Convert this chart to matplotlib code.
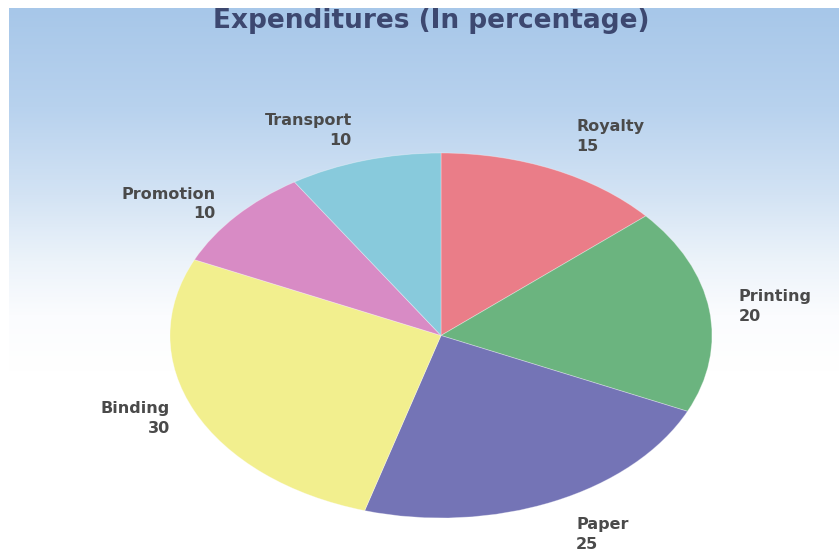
import numpy as np
import matplotlib
matplotlib.use("Agg")
import matplotlib.pyplot as plt
from matplotlib.colors import LinearSegmentedColormap

# ---- data ----
categories = ["Royalty", "Printing", "Paper", "Binding", "Promotion", "Transport"]
values = [15, 20, 25, 30, 10, 10]
colors = ["#ea7d88", "#6bb47f", "#7474b6", "#f2ef8e", "#d88bc5", "#88cadc"]
label_dist = [1.20, 1.11, 1.20, 1.10, 1.10, 1.17]
title = "Expenditures (In percentage)"

W, H = 839, 557
fig = plt.figure(figsize=(W / 100, H / 100), dpi=100)
fig.patch.set_facecolor("white")

# background gradient panel
bg = fig.add_axes([9 / W, 0, 1 - 9 / W, 1 - 8 / H])
bg.set_axis_off()
grad = np.linspace(0, 1, 1024).reshape(-1, 1)
cmap = LinearSegmentedColormap.from_list(
    "bgc", [(0.0, "#a7c7e9"), (0.18, "#b8d2ee"), (0.34, "#d3e3f4"),
            (0.46, "#ecf3fa"), (0.56, "#fbfcfe"), (0.66, "#ffffff"), (1.0, "#ffffff")]
)
bg.imshow(grad, aspect="auto", cmap=cmap, extent=[0, 1, 0, 1], origin="upper",
          interpolation="bilinear")
bg.set_xlim(0, 1)
bg.set_ylim(0, 1)

fig.text(431 / W, 1 - 21 / H, title, ha="center", va="center",
         fontsize=19, fontweight="bold", color="#3d4870", family="DejaVu Sans")

# pie axes: ellipse rx=271, ry=182.5 centred at (441, 335.5)
cx, cy, rx, ry = 441, 335.5, 271, 182.5
ax = fig.add_axes([(cx - rx) / W, (H - cy - ry) / H, 2 * rx / W, 2 * ry / H])
wedges, texts = ax.pie(values, colors=colors, startangle=90, counterclock=False,
                       labels=[f"{c}\n{v}" for c, v in zip(categories, values)],
                       labeldistance=1.1,
                       wedgeprops=dict(linewidth=0.6, edgecolor=(1, 1, 1, 0.35)),
                       textprops=dict(fontsize=11.5, fontweight="bold", color="#4a4a4a",
                                      linespacing=1.4, family="DejaVu Sans"))
ax.set_aspect("auto")
ax.set_xlim(-1, 1)
ax.set_ylim(-1, 1)
ax.set_axis_off()

for w, t, d in zip(wedges, texts, label_dist):
    ang = np.deg2rad((w.theta1 + w.theta2) / 2)
    t.set_position((d * np.cos(ang), d * np.sin(ang)))
    t.set_clip_on(False)

fig.savefig("out.png", dpi=100)
